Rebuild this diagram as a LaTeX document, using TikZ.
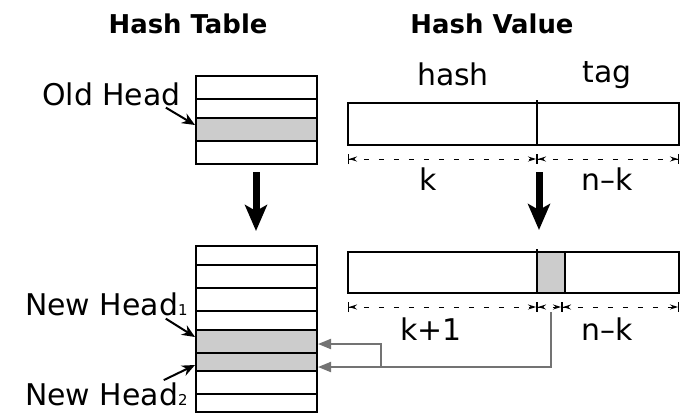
\documentclass[tikz,border=0pt]{standalone}
\usepackage{fontspec}
\setmainfont{DejaVu Sans}
\usetikzlibrary{arrows.meta}

\begin{document}
\begin{tikzpicture}[x=1bp, y=-1bp,
        box/.style={line width=2.2bp},
        lbl/.style={inner sep=0pt, font=\fontsize{30}{32}\selectfont},
        ttl/.style={inner sep=0pt, font=\bfseries\fontsize{26}{28}\selectfont},
        bigarrow/.style={line width=7bp, -{Stealth[length=26bp, width=22bp, inset=6bp]}},
        pointer/.style={line width=2bp, -{Stealth[length=13bp, width=11bp]}},
        link/.style={draw=black!55, line width=2bp, -{Triangle[length=13bp, width=10bp]}},
        dim/.style={line width=1bp, dash pattern=on 5bp off 10bp,
            {Bar[width=10bp]Stealth[length=8bp, width=5bp]}-{Stealth[length=8bp, width=5bp]Bar[width=10bp]}}]
    \useasboundingbox (0,0) rectangle (685,415);

    \node [ttl, anchor=base] (tabtitle) at (188,33) {Hash Table};
    \node [ttl, anchor=base] (valtitle) at (492,33) {Hash Value};

    \fill [black!20] (196,118) rectangle (317,141);
    \draw [box] (196,76) rectangle (317,164);
    \foreach \y in {99,118,141}
        \draw [box] (196,\y) -- (317,\y);

    \fill [black!20] (196,330) rectangle (317,371);
    \draw [box] (196,246) rectangle (317,412);
    \foreach \y in {265,288,311,330,353,371,394}
        \draw [box] (196,\y) -- (317,\y);

    \coordinate (oldslot) at (195,125);
    \coordinate (newslotA) at (195,337);
    \coordinate (newslotB) at (195,365);
    \coordinate (rowA) at (318,344);
    \coordinate (rowB) at (318,367);

    \node [lbl, anchor=base west] (oldhead) at (42,105) {Old Head};
    \node [lbl, anchor=base west] (newheadA) at (25,315) {New Head{\fontsize{15}{16}\selectfont 1}};
    \node [lbl, anchor=base west] (newheadB) at (25,405) {New Head{\fontsize{15}{16}\selectfont 2}};
    \draw [pointer] (oldhead.south east) ++(-15,2) -- (oldslot);
    \draw [pointer] (newheadA.south east) ++(-22,3) -- (newslotA);
    \draw [pointer] (newheadB.north east) ++(-24,-2) -- (newslotB);

    \draw [box] (348,103) rectangle (679,145);
    \draw [box] (537,100) -- (537,145);
    \node [lbl, anchor=base] (hash) at (453,85) {hash};
    \node [lbl, anchor=base] (tag) at (607,82) {tag};
    \draw [dim] (348,159) -- (537,159);
    \draw [dim] (537,159) -- (679,159);
    \node [lbl, anchor=base] (klen) at (428,190) {k};
    \node [lbl, anchor=base] (nklen) at (607,190) {n\textendash k};

    \fill [black!20] (537,252) rectangle (565,293);
    \draw [box] (348,252) rectangle (679,293);
    \draw [box] (537,249) -- (537,293);
    \draw [box] (565,252) -- (565,293);
    \draw [dim] (348,307) -- (537,307);
    \draw [dim] (537,307) -- (562,307);
    \draw [dim] (562,307) -- (679,307);
    \node [lbl, anchor=base] (kplus) at (431,340) {k+1};
    \node [lbl, anchor=base] (nkrest) at (607,340) {n\textendash k};

    \coordinate (tabtop) at (256,172);
    \coordinate (tabbot) at (256,231);
    \coordinate (valtop) at (539,172);
    \coordinate (valbot) at (539,230);
    \draw [bigarrow] (tabtop) -- (tabbot);
    \draw [bigarrow] (valtop) -- (valbot);

    \coordinate (tagbit) at (551,312);
    \coordinate (split) at (381,367);
    \draw [link] (tagbit) |- (rowB);
    \draw [link] (split) |- (rowA);
\end{tikzpicture}
\end{document}
